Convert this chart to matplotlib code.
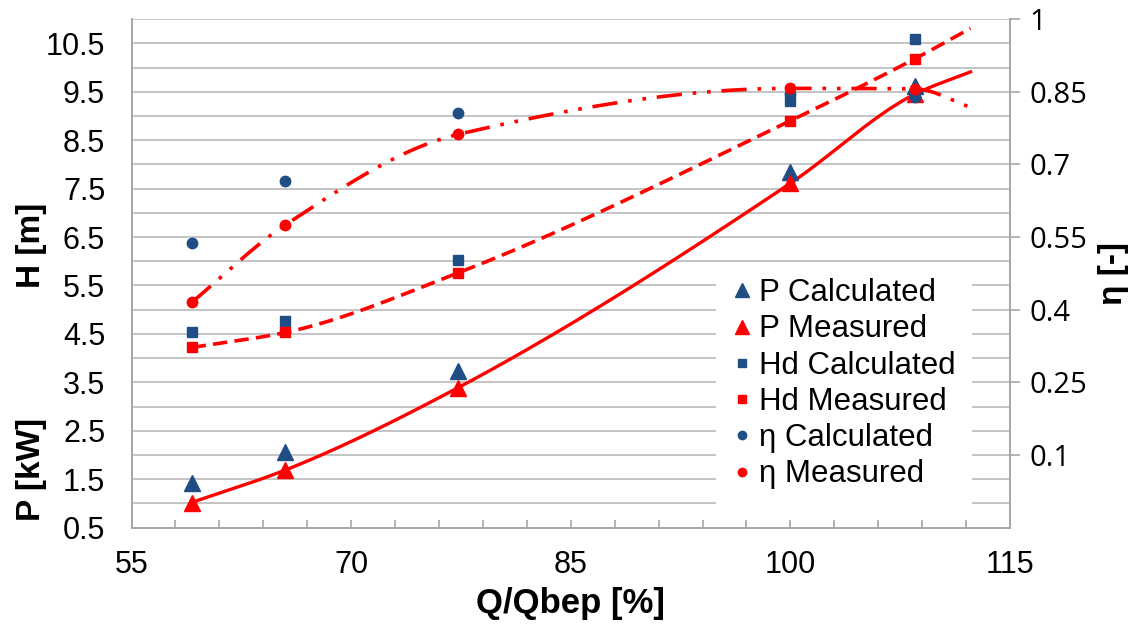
import matplotlib.pyplot as plt
import numpy as np
from matplotlib.lines import Line2D

# Flow rate relative to best efficiency point [%]
q = [59.1, 65.5, 77.3, 100.0, 108.5]

# Power [kW]
p_calc = [1.42, 2.07, 3.74, 7.85, 9.62]
p_meas = [1.02, 1.69, 3.39, 7.61, 9.45]

# Head [m]
hd_calc = [4.53, 4.77, 6.03, 9.30, 10.59]
hd_meas = [4.22, 4.53, 5.76, 8.90, 10.18]

# Efficiency [-]
eta_calc = [0.538, 0.666, 0.806, 0.845, 0.840]
eta_meas = [0.415, 0.575, 0.762, 0.857, 0.856]

# forecast end of the measured curves
q_fc = 112.3
p_fc = 9.91
hd_fc = 10.81
eta_fc = 0.818

blue = '#1f4e85'
red = '#ff0000'
grid_c = '#c4c4c4'

fig = plt.figure(figsize=(11.41, 6.30), dpi=100)
ax = fig.add_axes([0.1153, 0.1624, 0.7699, 0.8073])
ax2 = ax.twinx()

ax.set_xlim(55, 115)
ax.set_ylim(0.5, 11)
ax2.set_ylim(-0.05, 1.0)

# Horizontal grid every 0.5 on the left axis
for yv in np.arange(1.0, 11.01, 0.5):
    ax.axhline(yv, color=grid_c, lw=1.4, zorder=0)


def smooth(x, y, n=40):
    # shape preserving cubic Hermite (pchip) through the points
    x = np.asarray(x, float)
    y = np.asarray(y, float)
    h = np.diff(x)
    d = np.diff(y) / h
    m = np.zeros_like(y)
    for k in range(1, len(x) - 1):
        if d[k - 1] * d[k] > 0:
            w1 = 2 * h[k] + h[k - 1]
            w2 = h[k] + 2 * h[k - 1]
            m[k] = (w1 + w2) / (w1 / d[k - 1] + w2 / d[k])
    m[0] = d[0]
    m[-1] = d[-1]
    xs, ys = [], []
    for i in range(len(x) - 1):
        t = np.linspace(0, 1, n)
        h00 = 2 * t**3 - 3 * t**2 + 1
        h10 = t**3 - 2 * t**2 + t
        h01 = -2 * t**3 + 3 * t**2
        h11 = t**3 - t**2
        xs.append(x[i] + t * h[i])
        ys.append(h00 * y[i] + h10 * h[i] * m[i] + h01 * y[i + 1] + h11 * h[i] * m[i + 1])
    return np.concatenate(xs), np.concatenate(ys)


# Curves of measured data
xs, ys = smooth(q + [q_fc], p_meas + [p_fc])
ax.plot(xs, ys, color=red, lw=2.4, zorder=3)
xs, ys = smooth(q + [q_fc], hd_meas + [hd_fc])
ax.plot(xs, ys, color=red, lw=2.6, ls=(0, (4, 2)), zorder=3)
xs, ys = smooth(q + [q_fc], eta_meas + [eta_fc])
ax2.plot(xs, ys, color=red, lw=2.6, ls=(0, (7, 3, 1, 3, 1, 3)), zorder=3)

# Markers
ax.plot(q, p_calc, ls='none', marker='^', ms=12, color=blue, zorder=4)
ax.plot(q, hd_calc, ls='none', marker='s', ms=7, color=blue, zorder=4)
ax.plot(q, p_meas, ls='none', marker='^', ms=12, color=red, zorder=5)
ax.plot(q, hd_meas, ls='none', marker='s', ms=7, color=red, zorder=5)
ax2.plot(q, eta_calc, ls='none', marker='o', ms=7.5, color=blue, zorder=4)
ax2.plot(q, eta_meas, ls='none', marker='o', ms=7.5, color=red, zorder=5)

# Axes styling
for a in (ax, ax2):
    for s in a.spines.values():
        s.set_color('#a6a6a6')
        s.set_linewidth(1.2)
    a.spines['top'].set_visible(False)

ax.set_xticks(np.arange(55, 116, 15))
ax.set_xticks(np.arange(55, 116, 3), minor=True)
ax.tick_params(axis='x', which='both', direction='in', length=6, width=1.2,
               color='#a6a6a6', labelsize=22, pad=16)
ax.set_yticks(np.arange(0.5, 10.6, 1.0))
ax.set_yticklabels([f'{v:.1f}' for v in np.arange(0.5, 10.6, 1.0)])
ax.tick_params(axis='y', length=0, labelsize=22, pad=19)
for lab in ax.get_xticklabels() + ax.get_yticklabels():
    lab.set_fontfamily('Liberation Sans')

eta_ticks = [0.1, 0.25, 0.4, 0.55, 0.7, 0.85, 1.0]
ax2.set_yticks(eta_ticks)
ax2.set_yticklabels(['0.1', '0.25', '0.4', '0.55', '0.7', '0.85', '1'])
ax2.tick_params(axis='y', direction='out', length=7, width=1.2,
                color='#a6a6a6', labelsize=21, pad=7)
for lab in ax2.get_yticklabels():
    lab.set_fontfamily('Open Sans')

ax.set_xlabel('Q/Qbep [%]', fontsize=25, fontweight='bold',
              fontfamily='Liberation Sans', labelpad=5)
ax2.set_ylabel('η [-]', fontsize=24, fontweight='bold',
               fontfamily='Liberation Sans', rotation=90, labelpad=8)
fig.text(0.028, 0.255, 'P [kW]', rotation=90, fontsize=24, fontweight='bold',
         fontfamily='Liberation Sans', ha='center', va='center')
fig.text(0.028, 0.61, 'H [m]', rotation=90, fontsize=24, fontweight='bold',
         fontfamily='Liberation Sans', ha='center', va='center')

# Legend
handles = [
    Line2D([], [], ls='none', marker='^', ms=10, color=blue),
    Line2D([], [], ls='none', marker='^', ms=10, color=red),
    Line2D([], [], ls='none', marker='s', ms=6, color=blue),
    Line2D([], [], ls='none', marker='s', ms=6, color=red),
    Line2D([], [], ls='none', marker='o', ms=6, color=blue),
    Line2D([], [], ls='none', marker='o', ms=6, color=red),
]
labels = ['P Calculated', 'P Measured', 'Hd Calculated', 'Hd Measured',
          'η Calculated', 'η Measured']
leg = ax2.legend(handles, labels, loc='upper left', bbox_to_anchor=(0.647, 0.552),
                 frameon=True, facecolor='white', edgecolor='none', framealpha=1,
                 prop={'family': 'Liberation Sans', 'size': 22.5},
                 handlelength=0.7, handletextpad=0.2, labelspacing=0.2,
                 borderpad=0.5, fancybox=False)
leg.set_zorder(10)

plt.savefig('out.png', dpi=100)
